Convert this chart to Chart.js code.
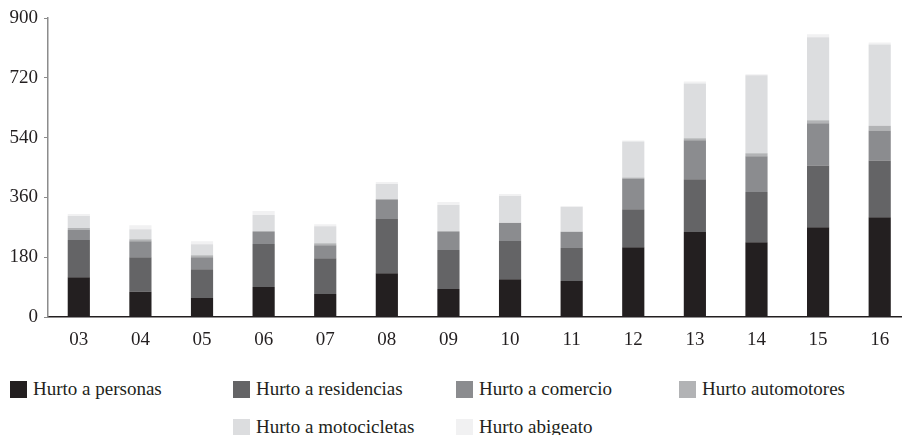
<!DOCTYPE html>
<html>
<head>
<meta charset="utf-8">
<script src="https://cdn.jsdelivr.net/npm/chart.js@4"></script>
<style>
  html, body {
    margin: 0;
    padding: 0;
    background: #ffffff;
    overflow: hidden;
  }
  #chart-wrapper {
    position: absolute;
    left: 0;
    top: 0;
    width: 912px;
    height: 355px;
  }
  #legend {
    position: absolute;
    left: 10px;
    top: 370px;
    display: grid;
    grid-template-columns: repeat(4, 223px);
    grid-auto-rows: 38px;
    font-family: "Liberation Serif", serif;
    font-size: 19px;
    color: #231f20;
  }
  .legend-item {
    display: flex;
    align-items: center;
  }
  .legend-box {
    width: 17px;
    height: 17px;
    margin-right: 6px;
    flex: none;
  }
</style>
</head>
<body>
<div id="chart-wrapper"><canvas id="chart-container"></canvas></div>
<div id="legend"></div>
<script>
const years = ["03", "04", "05", "06", "07", "08", "09", "10", "11", "12", "13", "14", "15", "16"];

const hurtoPersonas = [120, 76, 57, 90, 69, 132, 84, 114, 108, 210, 256, 225, 270, 300];
const hurtoResidencias = [112, 104, 87, 130, 108, 163, 118, 115, 100, 114, 159, 151, 186, 171];
const hurtoComercio = [30, 48, 36, 36, 39, 57, 54, 54, 48, 93, 117, 108, 127, 90];
const hurtoAutomotores = [6, 6, 6, 3, 6, 3, 3, 1, 1, 3, 6, 9, 9, 15];
const hurtoMotocicletas = [36, 30, 33, 48, 51, 45, 78, 80, 74, 108, 165, 235, 250, 244];
const hurtoAbigeato = [6, 12, 9, 12, 6, 6, 9, 6, 3, 3, 6, 3, 9, 6];

const yTicks = [0, 180, 360, 540, 720, 900];

const seriesNames = [
  "Hurto a personas",
  "Hurto a residencias",
  "Hurto a comercio",
  "Hurto automotores",
  "Hurto a motocicletas",
  "Hurto abigeato",
];
const seriesValues = [
  hurtoPersonas,
  hurtoResidencias,
  hurtoComercio,
  hurtoAutomotores,
  hurtoMotocicletas,
  hurtoAbigeato,
];
const seriesColors = ["#231f20", "#646466", "#8b8c8f", "#b2b3b5", "#dcdddf", "#f1f1f2"];

const fontSpec = { family: "Liberation Serif", size: 19 };

const ctx = document.getElementById("chart-container").getContext("2d");

const chartInstance = new Chart(ctx, {
  type: "bar",
  data: {
    labels: years,
    datasets: seriesNames.map((name, i) => ({
      label: name,
      data: seriesValues[i],
      backgroundColor: seriesColors[i],
      borderWidth: 0,
      barPercentage: 0.36,
      categoryPercentage: 1,
    })),
  },
  options: {
    responsive: true,
    maintainAspectRatio: false,
    animation: false,
    layout: {
      padding: { top: 18, right: 1.5, left: 0, bottom: 0 },
    },
    scales: {
      x: {
        stacked: true,
        afterFit: (scale) => {
          scale.height = 38; // bas du graphique vers y=317
        },
        border: { display: true, color: "#231f20", width: 1.5 },
        grid: { display: false },
        ticks: {
          color: "#231f20",
          font: fontSpec,
          padding: 4,
        },
      },
      y: {
        stacked: true,
        min: 0,
        max: 900,
        afterFit: (scale) => {
          scale.width = 48;
        },
        afterBuildTicks: (scale) => {
          scale.ticks = yTicks.map((v) => ({ value: v }));
        },
        border: { display: true, color: "#8c8c8c", width: 1.5 },
        grid: {
          display: true,
          drawOnChartArea: false,
          drawTicks: true,
          tickLength: 4,
          color: "#8c8c8c",
        },
        ticks: {
          color: "#231f20",
          font: fontSpec,
          padding: 6,
        },
      },
    },
    plugins: {
      legend: { display: false },
      tooltip: { enabled: false },
    },
  },
});

// Légende HTML en grille (4 colonnes, 2e ligne décalée d'une colonne)
const legend = document.getElementById("legend");
chartInstance.data.datasets.forEach((ds, i) => {
  const item = document.createElement("div");
  item.className = "legend-item";
  if (i === 4) item.style.gridColumn = "2";
  const box = document.createElement("span");
  box.className = "legend-box";
  box.style.background = ds.backgroundColor;
  const text = document.createElement("span");
  text.textContent = ds.label;
  item.appendChild(box);
  item.appendChild(text);
  legend.appendChild(item);
});
</script>
</body>
</html>
